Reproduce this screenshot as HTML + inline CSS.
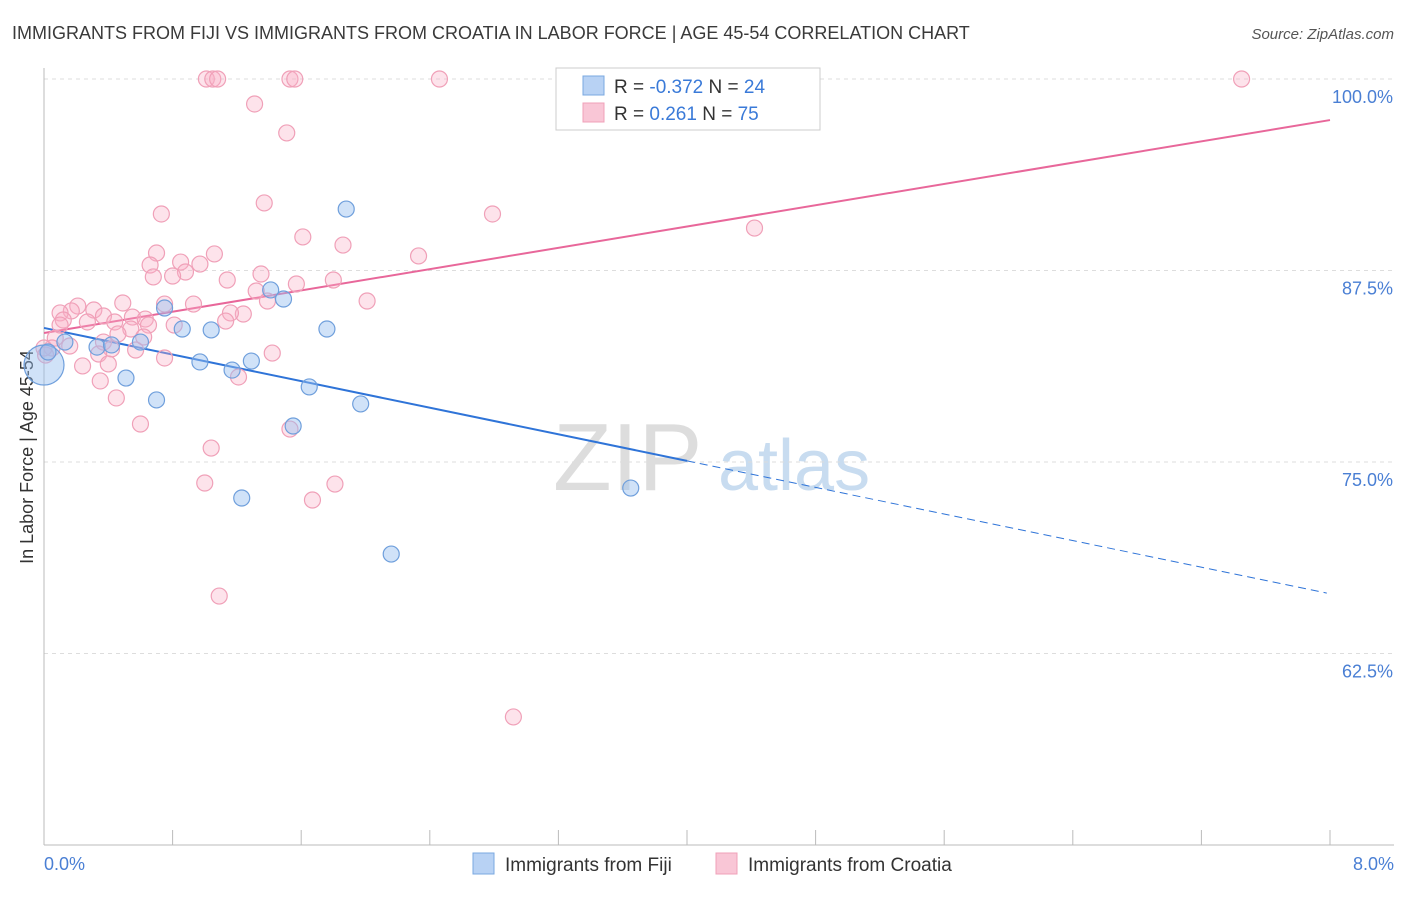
<!DOCTYPE html>
<html><head><meta charset="utf-8"><style>
body{margin:0;background:#fff;font-family:"Liberation Sans",sans-serif}
svg text{font-family:"Liberation Sans",sans-serif}
</style></head><body>
<svg id="chart" width="1406" height="892" xmlns="http://www.w3.org/2000/svg">
<text x="12" y="39" font-size="18" fill="#3a3a3a">IMMIGRANTS FROM FIJI VS IMMIGRANTS FROM CROATIA IN LABOR FORCE | AGE 45-54 CORRELATION CHART</text>
<text x="1394" y="39" font-size="15" fill="#555" text-anchor="end" font-style="italic">Source: ZipAtlas.com</text>
<g><text x="553" y="490" font-size="96" font-family="Liberation Serif" fill="#ddd">ZIP</text><text x="718" y="490" font-size="72" fill="#c8dcf0">atlas</text></g>
<g id="grid"></g>
<line x1="44" y1="68" x2="44" y2="845" stroke="#bbb"/>
<line x1="44" y1="845" x2="1394" y2="845" stroke="#bbb"/>
<g id="xticks"></g>
<text transform="translate(33,457) rotate(-90)" font-size="18" fill="#333" text-anchor="middle">In Labor Force | Age 45-54</text>
<text x="44" y="870" font-size="18" fill="#4a7fd4">0.0%</text>
<text x="1394" y="870" font-size="18" fill="#4a7fd4" text-anchor="end">8.0%</text>
<g id="lines"></g>
<g id="points"></g>
<g>
<rect x="556" y="68" width="264" height="62" fill="#fff" stroke="#ccc"/>
<rect x="583" y="76" width="21" height="19" fill="#b8d2f4" stroke="#7aa8e0"/>
<rect x="583" y="103" width="21" height="19" fill="#f9c6d6" stroke="#f0a0b8"/>
<text x="614" y="93" font-size="19" fill="#333">R = <tspan fill="#3a7ad8">-0.372</tspan>   N = <tspan fill="#3a7ad8">24</tspan></text>
<text x="614" y="120" font-size="19" fill="#333">R =   <tspan fill="#3a7ad8">0.261</tspan>   N = <tspan fill="#3a7ad8">75</tspan></text>
</g>
<g>
<rect x="473" y="853" width="21" height="21" fill="#b8d2f4" stroke="#7aa8e0"/>
<text x="505" y="871" font-size="19" fill="#333">Immigrants from Fiji</text>
<rect x="716" y="853" width="21" height="21" fill="#f9c6d6" stroke="#f0a0b8"/>
<text x="748" y="871" font-size="19" fill="#333">Immigrants from Croatia</text>
</g>
</svg>
<script>
const yTicks=[100,87.5,75,62.5];
const yTickLabels=["100.0%","87.5%","75.0%","62.5%"];
const xTickVals=[0,0.8,1.6,2.4,3.2,4,4.8,5.6,6.4,7.2,8];
const fijiX=[0,0.025,0.13,0.33,0.42,0.51,0.60,0.70,0.75,0.86,0.97,1.04,1.17,1.23,1.29,1.41,1.49,1.55,1.65,1.76,1.88,1.97,2.16,3.65];
const fijiY=[81.33,82.18,82.83,82.5,82.64,80.48,82.83,79.05,85.05,83.68,81.53,83.62,81.0,72.65,81.59,86.23,85.64,77.35,79.9,83.68,91.51,78.79,68.99,73.3];
const croX=[1.01,1.05,1.08,1.53,1.56,2.46,7.45,1.31,1.51,1.37,0.73,2.79,4.42,1.61,1.86,0.70,1.06,2.33,0.66,0.85,0.97,0.88,0.80,0.68,1.35,1.14,1.80,1.57,1.32,1.39,2.01,0.49,0.75,0.93,0.21,0.17,0.31,0.10,0.37,0.55,1.24,1.16,0.12,0.27,0.63,1.13,0.65,0.81,0.44,0.54,0.46,0.07,0.05,0.16,0.37,0.42,0.57,0.75,0.34,1.42,0.40,0.24,0.35,1.21,0.45,0.60,1.53,1.04,1.00,1.81,1.67,1.09,2.92,0.00,0.01,0.10,0.62];
const croY=[100,100,100,100,100,100,100,98.37,96.48,91.91,91.19,91.19,90.27,89.69,89.16,88.64,88.58,88.45,87.86,88.05,87.92,87.40,87.14,87.08,87.27,86.88,86.88,86.62,86.16,85.51,85.51,85.38,85.31,85.31,85.18,84.86,84.92,84.73,84.53,84.46,84.66,84.73,84.27,84.14,84.33,84.20,83.94,83.94,84.14,83.68,83.36,83.09,82.44,82.57,82.83,82.38,82.31,81.79,82.05,82.11,81.40,81.27,80.29,80.55,79.18,77.48,77.15,75.91,73.63,73.56,72.52,66.25,58.36,82.44,81.98,83.94,83.16];
const fijiTrend=[83.75,66.4];
const croTrend=[83.42,97.32];
const fijiSolidEnd=4.0;
const NS="http://www.w3.org/2000/svg";
const X=v=>44+v/8*1286;
const Y=v=>79+(100-v)*15.32;
function mk(tag,attrs,parent){const e=document.createElementNS(NS,tag);for(const k in attrs)e.setAttribute(k,attrs[k]);parent.appendChild(e);return e;}
const grid=document.getElementById('grid');
yTicks.forEach((t,i)=>{
 const l=mk('line',{x1:44,x2:1394,y1:Y(t),y2:Y(t),stroke:'#ddd','stroke-dasharray':'4,4'},grid);
 
 
 const tx=mk('text',{x:1393,y:Y(t)+24,'font-size':18,fill:'#4a7fd4','text-anchor':'end'},grid);
 tx.textContent=yTickLabels[i];
 
 
});
const xt=document.getElementById('xticks');
xTickVals.forEach(v=>{
 const l=mk('line',{x1:X(v),x2:X(v),y1:830,y2:845,stroke:'#bbb'},xt);
 
 
});
const lines=document.getElementById('lines');
const fy=x=>fijiTrend[0]+(fijiTrend[1]-fijiTrend[0])*x/8;
let l1=mk('line',{x1:X(0),y1:Y(fy(0)),x2:X(fijiSolidEnd),y2:Y(fy(fijiSolidEnd)),stroke:'#2f74d8','stroke-width':2},lines);


let l2=mk('line',{x1:X(fijiSolidEnd),y1:Y(fy(fijiSolidEnd)),x2:X(7.98),y2:Y(fy(7.98)),stroke:'#2f74d8','stroke-width':1,'stroke-dasharray':'8,5'},lines);


let l3=mk('line',{x1:X(0),y1:Y(croTrend[0]),x2:X(8),y2:Y(croTrend[1]),stroke:'#e8679a','stroke-width':2},lines);


const pts=document.getElementById('points');
croX.forEach((x,i)=>{
 const c=mk('circle',{cx:X(x),cy:Y(croY[i]),r:8,fill:'rgba(248,175,198,0.35)',stroke:'#f0a0b8','stroke-width':1.2},pts);
 
 
});
fijiX.forEach((x,i)=>{
 const c=mk('circle',{cx:X(x),cy:Y(fijiY[i]),r:i===0?20:8,fill:'rgba(150,190,240,0.45)',stroke:'#6f9fdc','stroke-width':1.2},pts);
 
 
});
</script>
</body></html>
